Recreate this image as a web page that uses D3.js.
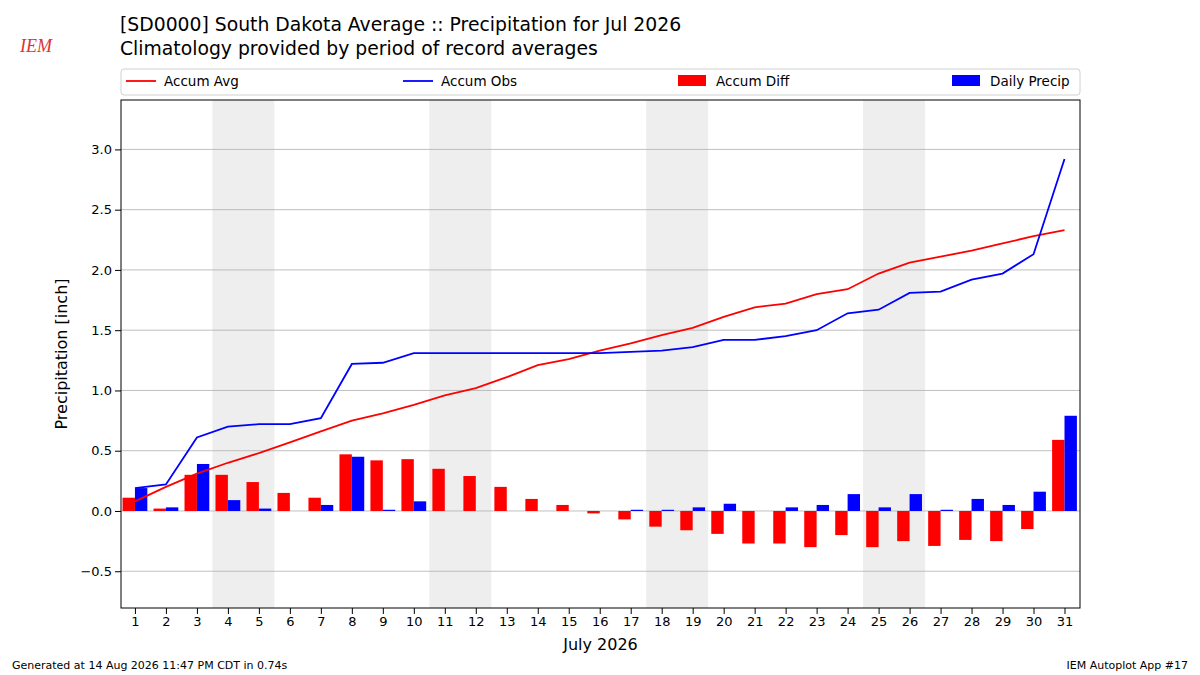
<!DOCTYPE html>
<html>
<head>
<meta charset="utf-8">
<script src="https://cdn.jsdelivr.net/npm/d3@7"></script>
<style>
body { margin: 0; background: #fff; font-family: "DejaVu Sans", sans-serif; }
text { font-family: "DejaVu Sans", sans-serif; }
</style>
</head>
<body>
<script>
// chart values
var days = d3.range(1, 32);
var accumAvg = [0.08, 0.20, 0.31, 0.40, 0.48, 0.57, 0.66, 0.75, 0.81, 0.88, 0.96, 1.02, 1.11, 1.21, 1.26, 1.33,
    1.39, 1.46, 1.52, 1.61, 1.69, 1.72, 1.80, 1.84, 1.97, 2.06, 2.11, 2.16, 2.22, 2.28, 2.33];
var accumObs = [0.19, 0.22, 0.61, 0.70, 0.72, 0.72, 0.77, 1.22, 1.23, 1.31, 1.31, 1.31, 1.31, 1.31, 1.31, 1.31,
    1.32, 1.33, 1.36, 1.42, 1.42, 1.45, 1.50, 1.64, 1.67, 1.81, 1.82, 1.92, 1.97, 2.13, 2.92];
var accumDiff = [0.11, 0.02, 0.30, 0.30, 0.24, 0.15, 0.11, 0.47, 0.42, 0.43, 0.35, 0.29, 0.20, 0.10, 0.05, -0.02,
    -0.07, -0.13, -0.16, -0.19, -0.27, -0.27, -0.30, -0.20, -0.30, -0.25, -0.29, -0.24, -0.25, -0.15, 0.59];
var dailyPrecip = [0.19, 0.03, 0.39, 0.09, 0.02, 0, 0.05, 0.45, 0.01, 0.08, 0, 0, 0, 0, 0, 0,
    0.01, 0.01, 0.03, 0.06, 0, 0.03, 0.05, 0.14, 0.03, 0.14, 0.01, 0.10, 0.05, 0.16, 0.79];
var weekends = [[3.5, 5.5], [10.5, 12.5], [17.5, 19.5], [24.5, 26.5]];
var yTicks = [-0.5, 0, 0.5, 1.0, 1.5, 2.0, 2.5, 3.0];

var W = 1200, H = 675;
var m = {left: 121, right: 1080, top: 100, bottom: 608};

var svg = d3.select("body").append("svg")
    .attr("width", W)
    .attr("height", H);

var x = d3.scaleLinear().domain([0.55, 31.5]).range([m.left, m.right]);
var y = d3.scaleLinear().domain([-0.805, 3.41]).range([m.bottom, m.top]);
var bw = x(1.4) - x(1);

// weekend shading
svg.selectAll("rect.wk")
    .data(weekends)
    .enter()
    .append("rect")
    .attr("x", function (d) { return x(d[0]); })
    .attr("width", function (d) { return x(d[1]) - x(d[0]); })
    .attr("y", m.top)
    .attr("height", m.bottom - m.top)
    .style("fill", "#eeeeee");

// grid lines
svg.selectAll("line.grid")
    .data(yTicks)
    .enter()
    .append("line")
    .attr("x1", m.left).attr("x2", m.right)
    .attr("y1", function (d) { return y(d); })
    .attr("y2", function (d) { return y(d); })
    .style("stroke", "#b0b0b0")
    .style("stroke-width", 0.8);

// bars
svg.selectAll("rect.diff")
    .data(days)
    .enter()
    .append("rect")
    .attr("x", function (d) { return x(d) - bw; })
    .attr("width", bw)
    .attr("y", function (d, i) { return y(Math.max(0, accumDiff[i])); })
    .attr("height", function (d, i) { return Math.abs(y(accumDiff[i]) - y(0)); })
    .style("fill", "red");

svg.selectAll("rect.daily")
    .data(days)
    .enter()
    .append("rect")
    .attr("x", function (d) { return x(d); })
    .attr("width", bw)
    .attr("y", function (d, i) { return y(dailyPrecip[i]); })
    .attr("height", function (d, i) { return y(0) - y(dailyPrecip[i]); })
    .style("fill", "blue");

// lines
var line = function (vals) {
    return d3.line()
        .x(function (d) { return x(d); })
        .y(function (d, i) { return y(vals[i]); })(days);
};
svg.append("path").attr("d", line(accumAvg))
    .style("fill", "none").style("stroke", "red").style("stroke-width", 1.8);
svg.append("path").attr("d", line(accumObs))
    .style("fill", "none").style("stroke", "blue").style("stroke-width", 1.8);

// axes
var xAxis = svg.append("g")
    .attr("transform", "translate(0," + m.bottom + ")")
    .call(d3.axisBottom(x).tickValues(days).tickFormat(d3.format("d")).tickSizeOuter(0));
var yAxis = svg.append("g")
    .attr("transform", "translate(" + m.left + ",0)")
    .call(d3.axisLeft(y).tickValues(yTicks).tickFormat(d3.format(".1f")).tickSizeOuter(0));
[xAxis, yAxis].forEach(function (g) {
    g.selectAll("text").style("font-size", "13px").style("fill", "#000");
    g.selectAll("line").style("stroke", "#000");
    g.select(".domain").remove();
});

svg.append("rect")
    .attr("x", m.left).attr("y", m.top)
    .attr("width", m.right - m.left).attr("height", m.bottom - m.top)
    .style("fill", "none").style("stroke", "#000").style("stroke-width", 1);

// axis labels
svg.append("text").attr("x", (m.left + m.right) / 2).attr("y", 650)
    .attr("text-anchor", "middle").style("font-size", "16px").text("July 2026");
svg.append("text")
    .attr("transform", "translate(67," + ((m.top + m.bottom) / 2) + ") rotate(-90)")
    .attr("text-anchor", "middle").style("font-size", "16px").text("Precipitation [inch]");

// titles
svg.append("text").attr("x", 120).attr("y", 31).style("font-size", "18.8px")
    .text("[SD0000] South Dakota Average :: Precipitation for Jul 2026");
svg.append("text").attr("x", 120).attr("y", 55).style("font-size", "18.8px")
    .text("Climatology provided by period of record averages");

// legend
svg.append("rect").attr("x", 121).attr("y", 69).attr("width", 959).attr("height", 26)
    .attr("rx", 3).style("fill", "#fff").style("stroke", "#d0d0d0");
var legend = [
    {label: "Accum Avg", color: "red", type: "line", x: 126},
    {label: "Accum Obs", color: "blue", type: "line", x: 403},
    {label: "Accum Diff", color: "red", type: "rect", x: 678},
    {label: "Daily Precip", color: "blue", type: "rect", x: 952}
];
legend.forEach(function (l) {
    if (l.type === "line") {
        svg.append("line").attr("x1", l.x).attr("x2", l.x + 30).attr("y1", 81).attr("y2", 81)
            .style("stroke", l.color).style("stroke-width", 1.8);
    } else {
        svg.append("rect").attr("x", l.x).attr("y", 75).attr("width", 28).attr("height", 11)
            .style("fill", l.color);
    }
    svg.append("text").attr("x", l.x + 38).attr("y", 86).style("font-size", "13.5px").text(l.label);
});

// logo placeholder
svg.append("text").attr("x", 20).attr("y", 52).style("font-size", "18px")
    .style("font-family", "Liberation Serif, serif").style("font-style", "italic")
    .style("fill", "#d33").text("IEM");

// footer
svg.append("text").attr("x", 12).attr("y", 669).style("font-size", "11px")
    .text("Generated at 14 Aug 2026 11:47 PM CDT in 0.74s");
svg.append("text").attr("x", 1188).attr("y", 669).attr("text-anchor", "end").style("font-size", "11px")
    .text("IEM Autoplot App #17");
</script>
</body>
</html>
